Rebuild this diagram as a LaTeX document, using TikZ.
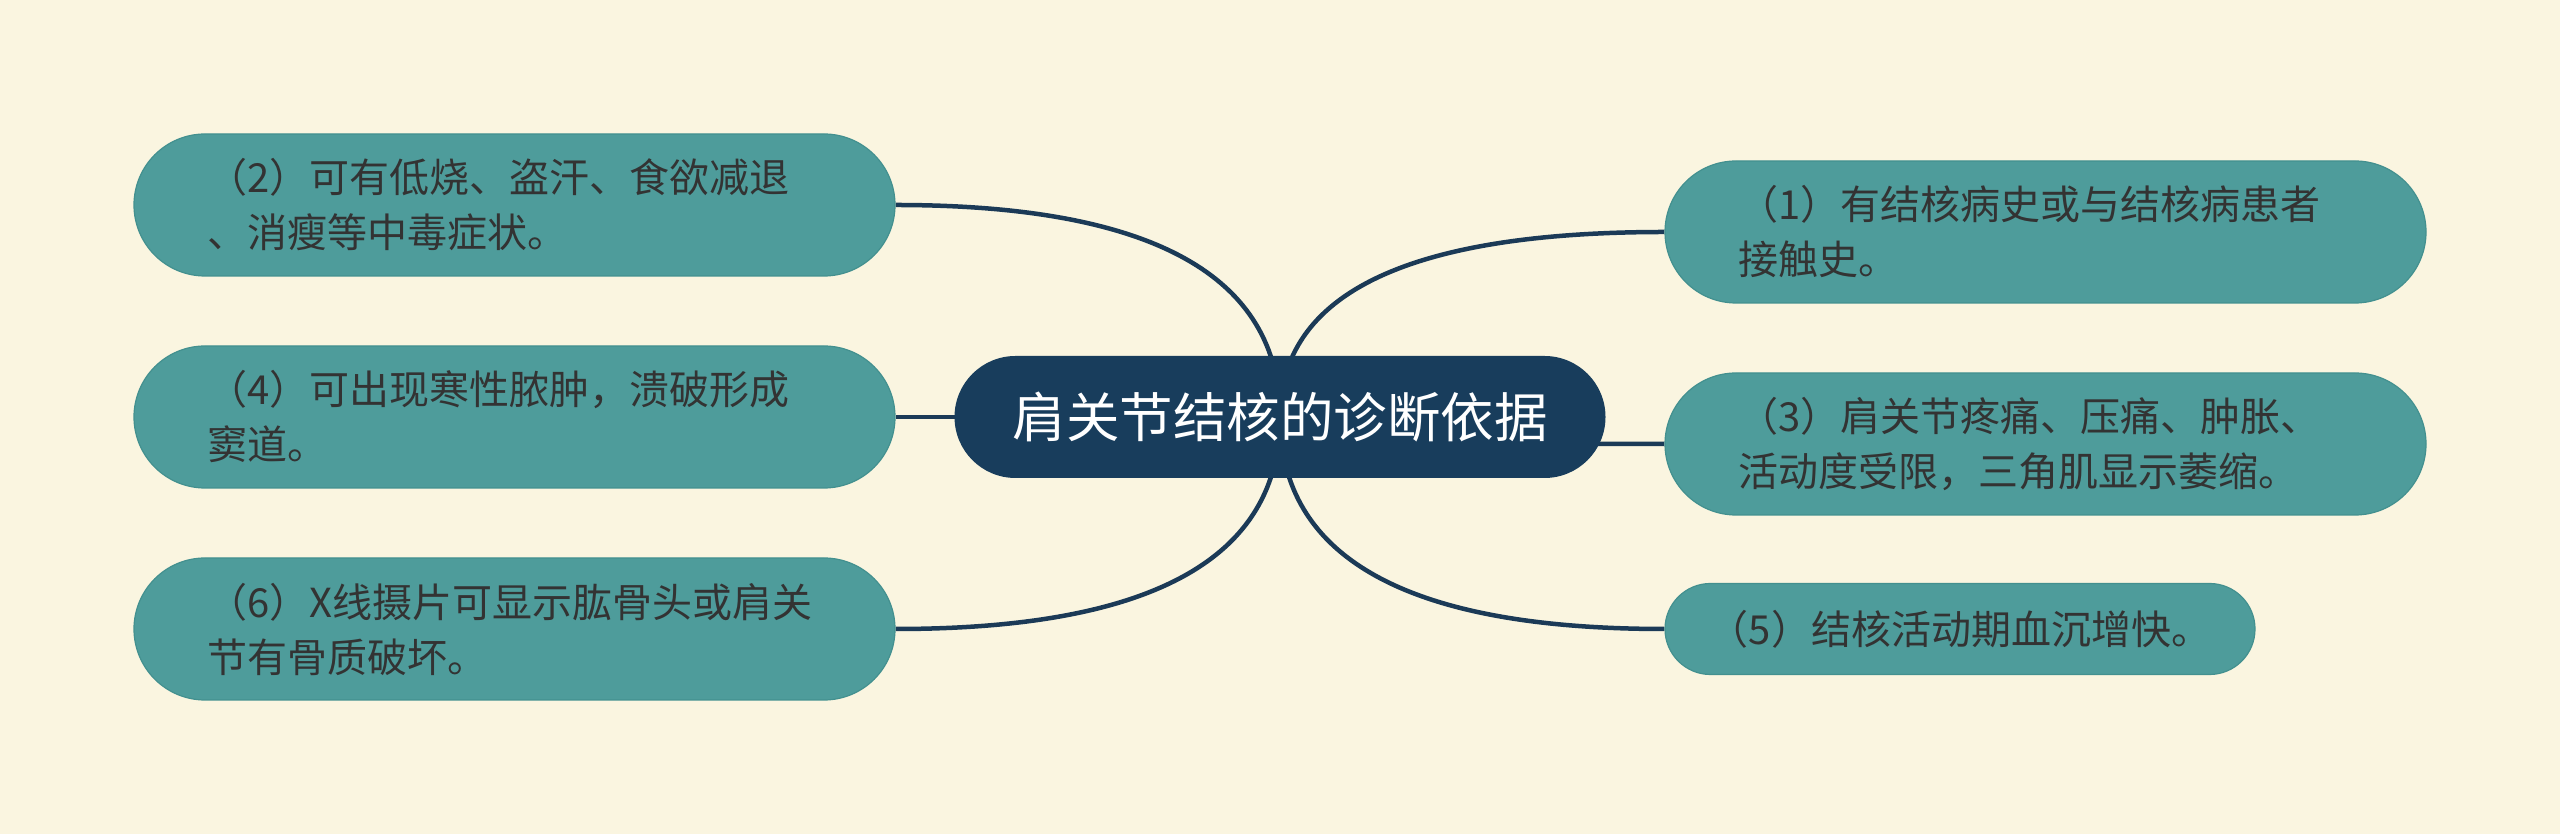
\documentclass[tikz,border=0pt]{standalone}
\usepackage{fontspec}
\newfontfamily\cjk{Noto Sans CJK SC}
\usetikzlibrary{shapes.misc,calc}

\definecolor{paper}{HTML}{FAF5E0}
\definecolor{leaffill}{HTML}{4E9C9B}
\definecolor{leafline}{HTML}{43908F}
\definecolor{rootfill}{HTML}{183D5C}
\definecolor{linkcol}{HTML}{1B3A57}
\definecolor{ink}{HTML}{333333}

\pgfdeclarelayer{back}
\pgfsetlayers{back,main}

\tikzset{
  leaf/.style={rounded rectangle, fill=leaffill, draw=leafline, line width=1.2pt,
    text=ink, font=\cjk\fontsize{40}{55}\selectfont,
    minimum width=761pt, minimum height=142pt, inner sep=0pt},
  wide/.style={text width=615pt, align=left},
  root/.style={rounded rectangle, fill=rootfill, text=white,
    font=\cjk\fontsize{53.5}{60}\selectfont,
    minimum width=651pt, minimum height=122pt, inner sep=0pt},
  link/.style={draw=linkcol, line width=4.5pt}
}

% quadratic curve from the root centre to a child anchor
\newcommand{\branch}[1]{%
  \draw[link] (C.center) .. controls ($(C.center)!0.667!(C.center |- #1)$)
    and ($(#1)!0.667!(C.center |- #1)$) .. (#1);}

\begin{document}
\begin{tikzpicture}[x=1pt,y=1pt]

\begin{pgfonlayer}{back}
\fill[paper] (0,0) rectangle (2560,834);
\end{pgfonlayer}
\useasboundingbox (0,0) rectangle (2560,834);

\node[root] (C) at (1280,417) {肩关节结核的诊断依据};

\node[leaf, wide] (P2) at (514.5,629) {（2）可有低烧、盗汗、食欲减退\\、消瘦等中毒症状。};

\node[leaf, wide] (P4) at (514.5,417) {（4）可出现寒性脓肿，溃破形成\\窦道。};

\node[leaf, wide] (P6) at (514.5,205) {（6）X线摄片可显示肱骨头或肩关\\节有骨质破坏。};

\node[leaf, wide] (P1) at (2045.5,602) {（1）有结核病史或与结核病患者\\接触史。};

\node[leaf, wide] (P3) at (2045.5,390) {（3）肩关节疼痛、压痛、肿胀、\\活动度受限，三角肌显示萎缩。};

\node[leaf, minimum width=590pt, minimum height=91pt] (P5) at (1960,205) {（5）结核活动期血沉增快。};

\begin{pgfonlayer}{back}
\branch{P1.west}
\branch{P3.west}
\branch{P5.west}
\branch{P2.east}
\branch{P4.east}
\branch{P6.east}
\end{pgfonlayer}

\end{tikzpicture}
\end{document}
